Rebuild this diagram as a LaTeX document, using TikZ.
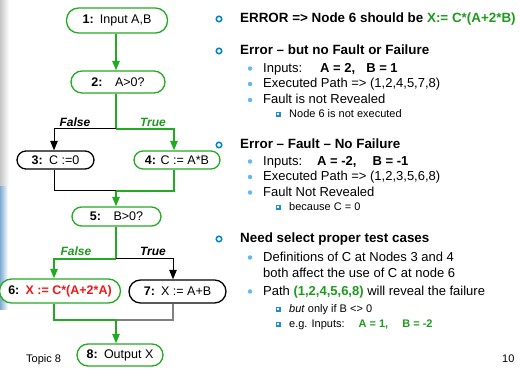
\documentclass[tikz,border=0pt]{standalone}
\usepackage{fontspec}
\setmainfont{Liberation Sans}
\usetikzlibrary{arrows.meta}
\definecolor{fgreen}{RGB}{34,170,34}
\definecolor{tgreen}{RGB}{30,155,30}
\definecolor{fred}{RGB}{240,25,25}
\definecolor{bulblue}{RGB}{0,130,200}
\definecolor{dotblue}{RGB}{100,185,240}
\definecolor{sqblue}{RGB}{30,140,210}
\definecolor{edgeblue}{RGB}{125,172,210}
\begin{document}
\begin{tikzpicture}[x=1pt,y=-1pt,
  fbox/.style={draw, line width=1.3pt, fill=white, inner sep=0pt, font=\fontsize{12.5}{14}\selectfont},
  gbox/.style={fbox, draw=fgreen},
  kbox/.style={fbox, draw=black},
  gline/.style={draw=fgreen, line width=1.3pt},
  kline/.style={draw=black, line width=1pt},
  grline/.style={draw=gray, line width=1.3pt},
  arr/.style={-{Triangle[length=9.5pt,width=7.5pt]}},
  lab/.style={font=\fontsize{12}{14}\selectfont\bfseries\itshape, anchor=base, inner sep=0pt},
  h1/.style={anchor=base west, inner sep=0pt, font=\fontsize{13.4}{15}\selectfont\bfseries},
  h2/.style={anchor=base west, inner sep=0pt, font=\fontsize{13}{15}\selectfont},
  h3/.style={anchor=base west, inner sep=0pt, font=\fontsize{11}{12}\selectfont},
  small/.style={anchor=base west, inner sep=0pt, font=\fontsize{11}{12}\selectfont},
  circbul/.style={draw=bulblue, line width=1.5pt, circle, minimum size=5.5pt, inner sep=0pt},
  dotbul/.style={fill=dotblue, circle, minimum size=4.5pt, inner sep=0pt},
  sqbul/.style={fill=sqblue, minimum size=5pt, inner sep=0pt, path picture={\fill[white] ([xshift=-1pt,yshift=-1pt]path picture bounding box.center) rectangle ([xshift=1pt,yshift=1pt]path picture bounding box.center);}},
]
\useasboundingbox (0,0) rectangle (520,371);
\fill[white] (0,0) rectangle (520,371);
% left edge
\shade[left color=gray!45, right color=white] (0,0) rectangle (9,187);
\shade[left color=edgeblue, right color=white] (0,187) rectangle (8,310);

% flowchart nodes
\node[gbox, rounded corners=12pt, minimum width=101pt, minimum height=25pt] (n1) at (117,20.5) {\textbf{1:}\enspace Input A,B};
\node[gbox, rounded corners=11pt, minimum width=94pt, minimum height=22pt] (n2) at (118,82) {\textbf{2:}\quad A>0?};
\node[kbox, rounded corners=9pt, minimum width=77pt, minimum height=18pt] (n3) at (55.5,160) {\textbf{3:}\enspace C :=0};
\node[gbox, rounded corners=9pt, minimum width=86pt, minimum height=18pt] (n4) at (177,160) {\textbf{4:} C := A*B};
\node[gbox, rounded corners=9.5pt, minimum width=89pt, minimum height=19pt] (n5) at (116.5,216.5) {\textbf{5:}\quad B>0?};
\node[gbox, rounded corners=12pt, minimum width=121pt, minimum height=24pt] (n6) at (60,291) {\textbf{6:}\enspace\textcolor{fred}{\textbf{X := C*(A+2*A)}}};
\node[kbox, rounded corners=11.5pt, minimum width=97pt, minimum height=23pt] (n7) at (177.5,291.5) {\textbf{7:}\enspace X := A+B};
\node[gbox, rounded corners=11pt, minimum width=86pt, minimum height=22pt] (n8) at (120,355) {\textbf{8:}\enspace Output X};

% coordinates
\coordinate (b1) at (116,129);
\coordinate (b1l) at (54,129);
\coordinate (b1r) at (174,129);
\coordinate (m1) at (116,191);
\coordinate (m1l) at (54,191);
\coordinate (m1r) at (174,191);
\coordinate (b2) at (116,259);
\coordinate (b2l) at (54,259);
\coordinate (b2r) at (173,259);
\coordinate (m2) at (116,320);
\coordinate (m2l) at (54,320);
\coordinate (m2r) at (173,320);

% connectors
\draw[gline, arr] (b1 |- n1.south) -- (b1 |- n2.north);
\draw[gline] (b1 |- n2.south) -- (b1);
\draw[kline, arr] (b1) -- (b1l) -- (b1l |- n3.north);
\draw[gline, arr] (b1) -- (b1r) -- (b1r |- n4.north);
\draw[kline] (b1l |- n3.south) -- (m1l) -- (m1);
\draw[gline] (m1r |- n4.south) -- (m1r) -- (m1);
\draw[gline, arr] (m1) -- (m1 |- n5.north);
\draw[gline] (b2 |- n5.south) -- (b2);
\draw[gline, arr] (b2) -- (b2l) -- (b2l |- n6.north);
\draw[kline, arr] (b2) -- (b2r) -- (b2r |- n7.north);
\draw[gline] (m2l |- n6.south) -- (m2l) -- (m2);
\draw[grline] (m2r |- n7.south) -- (m2r) -- (m2);
\draw[gline, arr] (m2) -- (m2 |- n8.north);

% branch labels
\node[lab] (f1) at (75,127) {False};
\node[lab, text=tgreen] (t1) at (153,127) {True};
\node[lab, text=tgreen] (f2) at (76,256) {False};
\node[lab] (t2) at (153,256) {True};

\node[small] (topic) at (26,363) {Topic 8};
\node[small] (pg) at (502,363) {10};

% right-hand text
\node[circbul] (c1) at (219,19) {};
\node[h1] (l1) at (240,23) {ERROR => Node 6 should be \textcolor{tgreen}{X:= C*(A+2*B)}};

\node[circbul] (c2) at (219,51) {};
\node[h1] (l2) at (240,55) {Error -- but no Fault or Failure};
\node[dotbul] (d21) at (250,68.5) {};
\node[h2] (l21) at (263,73) {Inputs:\hspace{18pt}\textbf{A = 2,}\hspace{11pt}\textbf{B = 1}};
\node[dotbul] (d22) at (250,84) {};
\node[h2] (l22) at (263,88) {Executed Path => (1,2,4,5,7,8)};
\node[dotbul] (d23) at (250,100) {};
\node[h2] (l23) at (263,104) {Fault is not Revealed};
\node[sqbul] (s24) at (278,114.5) {};
\node[h3] (l24) at (289,118) {Node 6 is not executed};

\node[circbul] (c3) at (219,145) {};
\node[h1] (l3) at (240,149) {Error -- Fault -- No Failure};
\node[dotbul] (d31) at (250,161.5) {};
\node[h2] (l31) at (263,166) {Inputs:\hspace{15pt}\textbf{A = -2,}\hspace{16pt}\textbf{B = -1}};
\node[dotbul] (d32) at (250,177) {};
\node[h2] (l32) at (263,181) {Executed Path => (1,2,3,5,6,8)};
\node[dotbul] (d33) at (250,192.5) {};
\node[h2] (l33) at (263,197) {Fault Not Revealed};
\node[sqbul] (s34) at (278,207.5) {};
\node[h3] (l34) at (289,211) {because C = 0};

\node[circbul] (c4) at (219,239) {};
\node[h1] (l4) at (240,243) {Need select proper test cases};
\node[dotbul] (d41) at (250,257.5) {};
\node[h2] (l41) at (263,262) {Definitions of C at Nodes 3 and 4};
\node[h2] (l42) at (263,278) {both affect the use of C at node 6};
\node[dotbul] (d43) at (250,291.5) {};
\node[h2] (l43) at (263,296) {Path \textcolor{tgreen}{\textbf{(1,2,4,5,6,8)}} will reveal the failure};
\node[sqbul] (s44) at (278,309.5) {};
\node[h3] (l44) at (289,313) {\textit{but} only if B <> 0};
\node[sqbul] (s45) at (278,324.5) {};
\node[h3] (l45) at (289,328) {e.g. Inputs:\hspace{14pt}\textcolor{tgreen}{\textbf{A = 1,}\hspace{14pt}\textbf{B = -2}}};
\end{tikzpicture}
\end{document}
